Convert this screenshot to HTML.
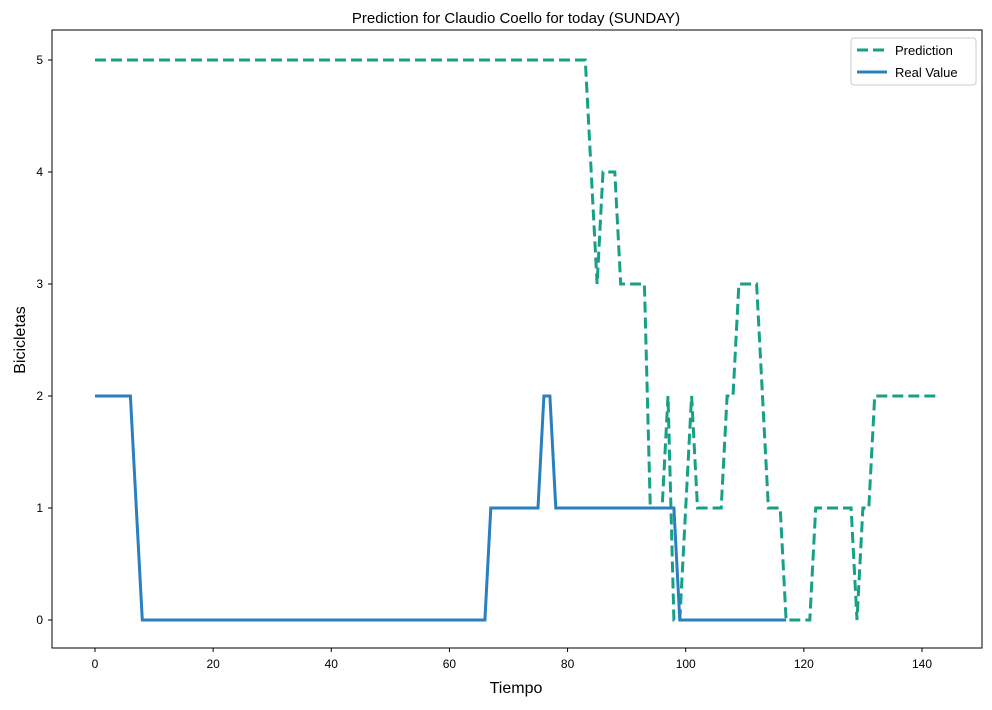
<!DOCTYPE html>
<html><head><meta charset="utf-8"><style>
body{margin:0;background:#fff;}
svg text{font-family:"Liberation Sans","DejaVu Sans",sans-serif;}
</style></head><body>
<svg id="chart" width="992" height="705" xmlns="http://www.w3.org/2000/svg">
<rect width="992" height="705" fill="#fff"/>
<text x="516" y="23" text-anchor="middle" font-size="15" fill="#000">Prediction for Claudio Coello for today (SUNDAY)</text>
<text x="516" y="693" text-anchor="middle" font-size="16" fill="#000">Tiempo</text>
<text x="25" y="340" text-anchor="middle" font-size="16" fill="#000" transform="rotate(-90 25 340)">Bicicletas</text>
<g id="axes"></g>
<g id="series"></g>
<rect x="52" y="30" width="930" height="618" fill="none" stroke="#000" stroke-width="1"/>
<g>
<rect x="851" y="38" width="125" height="47" rx="3" fill="#fff" stroke="#ccc"/>
<line x1="857" y1="50" x2="887" y2="50" stroke="#16a085" stroke-width="3" stroke-dasharray="11,5"/>
<text x="895" y="55" font-size="13">Prediction</text>
<line x1="857" y1="72" x2="887" y2="72" stroke="#2a7fbf" stroke-width="3"/>
<text x="895" y="77" font-size="13">Real Value</text>
</g>
</svg>
<script>
const xTicks = [0, 20, 40, 60, 80, 100, 120, 140];
const yTicks = [0, 1, 2, 3, 4, 5];
const prediction = [
5,5,5,5,5,5,5,5,5,5, 5,5,5,5,5,5,5,5,5,5,
5,5,5,5,5,5,5,5,5,5, 5,5,5,5,5,5,5,5,5,5,
5,5,5,5,5,5,5,5,5,5, 5,5,5,5,5,5,5,5,5,5,
5,5,5,5,5,5,5,5,5,5, 5,5,5,5,5,5,5,5,5,5,
5,5,5,5,4,3,4,4,4,3, 3,3,3,3,1,1,1,2,0,0,
1,2,1,1,1,1,1,2,2,3, 3,3,3,2,1,1,1,0,0,0,
0,0,1,1,1,1,1,1,1,0, 1,1,2,2,2,2,2,2,2,2,
2,2,2,2];
const realValue = [
2,2,2,2,2,2,2,1,0,0, 0,0,0,0,0,0,0,0,0,0,
0,0,0,0,0,0,0,0,0,0, 0,0,0,0,0,0,0,0,0,0,
0,0,0,0,0,0,0,0,0,0, 0,0,0,0,0,0,0,0,0,0,
0,0,0,0,0,0,0,1,1,1, 1,1,1,1,1,1,2,2,1,1,
1,1,1,1,1,1,1,1,1,1, 1,1,1,1,1,1,1,1,1,0,
0,0,0,0,0,0,0,0,0,0, 0,0,0,0,0,0,0,0];
const NS = "http://www.w3.org/2000/svg";
const xs = v => 95 + v * (922 - 95) / 140;
const ys = v => 620 - v * 112;
const axes = document.getElementById('axes');
const series = document.getElementById('series');
function mk(tag, attrs, parent){const e=document.createElementNS(NS,tag);for(const k in attrs)e.setAttribute(k,attrs[k]);parent.appendChild(e);return e;}
xTicks.forEach(t=>{
  const l=mk('line',{x1:xs(t),x2:xs(t),y1:648,y2:652,stroke:'#000'},axes);
  
  
  const tx=mk('text',{x:xs(t),y:668,'text-anchor':'middle','font-size':12},axes);
  tx.textContent=t;
  
  
});
yTicks.forEach(t=>{
  const l=mk('line',{x1:48,x2:52,y1:ys(t),y2:ys(t),stroke:'#000'},axes);
  
  
  const tx=mk('text',{x:43,y:ys(t)+4,'text-anchor':'end','font-size':12},axes);
  tx.textContent=t;
  
  
});
function pts(arr){return arr.map((v,i)=>xs(i).toFixed(1)+','+ys(v).toFixed(1)).join(' ');}
const pl=mk('polyline',{points:pts(prediction),fill:'none',stroke:'#16a085','stroke-width':3,'stroke-dasharray':'11,5','stroke-linejoin':'miter'},series);


const rl=mk('polyline',{points:pts(realValue),fill:'none',stroke:'#2a7fbf','stroke-width':3},series);


</script>
</body></html>
